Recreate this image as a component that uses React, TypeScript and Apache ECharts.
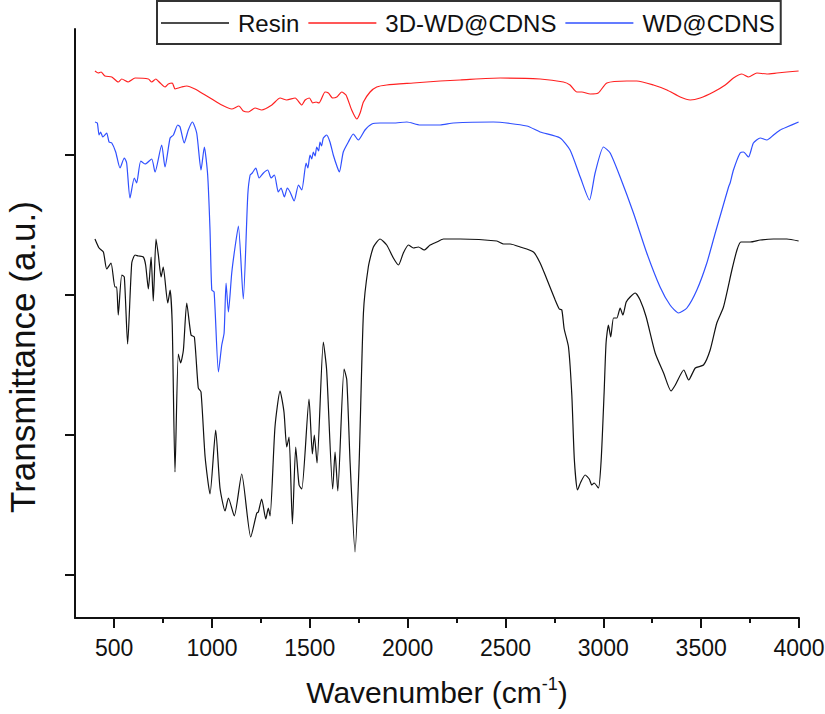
import React, { useEffect, useRef } from "react";
import * as echarts from "echarts";

// Wavenumber (cm-1) and transmittance (a.u.)
const WN_RESIN = [402,423,445,462,484,504,513,521,539,552,569,590,607,624,649,661,675,689,700,714,726,740,751,774,786,797,811,828,840,854,871,893,910,930,944,965,990,1019,1041,1067,1084,1114,1152,1198,1229,1237,1254,1275,1288,1297,1322,1348,1368,1382,1394,1411,1428,1445,1459,1496,1513,1523,1537,1569,1586,1617,1629,1643,1675,1689,1706,1731,1752,1774,1799,1825,1859,1893,1927,1953,1978,2004,2029,2055,2084,2115,2149,2183,2268,2456,2490,2524,2575,2643,2677,2711,2754,2775,2788,2800,2822,2839,2852,2868,2885,2907,2928,2941,2953,2975,2989,3004,3014,3026,3038,3052,3069,3086,3100,3117,3137,3163,3188,3219,3265,3308,3346,3368,3411,3436,3470,3512,3546,3580,3614,3657,3683,3703,3751,3802,3870,3938,3998];
const T_RESIN = [379,370,366,349,355,331,331,303,343,341,274,355,363,362,361,353,329,361,317,379,363,341,351,315,328,293,146,264,255,268,315,283,281,230,226,161,124,188,130,107,120,102,144,81,105,106,119,99,110,102,191,227,206,171,181,94,171,133,129,219,164,183,155,276,248,129,166,127,249,238,155,66,155,305,351,371,379,373,360,353,365,373,370,371,368,373,376,379,379,377,374,374,371,366,355,339,318,309,308,289,271,223,158,128,136,143,139,133,135,130,158,225,275,293,281,300,300,310,303,316,321,325,318,301,265,245,227,233,248,238,250,253,268,295,311,348,368,376,376,378,379,379,377];

const WN_3D = [402,419,433,453,488,521,539,572,607,675,692,713,735,760,777,797,811,828,845,871,913,965,999,1050,1101,1138,1160,1186,1220,1254,1306,1348,1382,1425,1459,1476,1498,1515,1532,1547,1578,1595,1617,1638,1663,1685,1714,1740,1757,1774,1808,1842,1893,2029,2166,2268,2473,2677,2796,2830,2865,2890,2933,2974,3018,3120,3171,3256,3325,3393,3444,3495,3563,3623,3665,3708,3742,3785,3836,3887,3938,3998];
const T_3D = [547,545,546,542,541,536,539,536,540,539,536,539,535,531,534,535,529,530,531,532,529,523,519,513,509,512,507,506,510,508,513,520,518,520,513,518,520,515,516,515,526,525,520,521,526,523,508,499,505,516,526,531,533,535,537,538,540,539,536,533,526,526,524,525,535,537,537,533,528,521,518,520,526,533,540,544,541,545,544,545,546,547];

const WN_WD = [402,414,423,431,442,462,474,488,508,530,552,564,581,603,615,636,658,692,709,743,760,786,803,825,837,858,879,900,922,944,961,978,990,999,1011,1033,1050,1062,1072,1084,1101,1118,1135,1160,1183,1195,1206,1224,1241,1263,1285,1302,1319,1339,1353,1370,1385,1399,1420,1442,1459,1481,1490,1501,1510,1518,1527,1535,1545,1552,1560,1569,1586,1603,1620,1640,1651,1671,1697,1722,1748,1782,1817,1859,1927,1996,2064,2166,2234,2438,2609,2677,2779,2830,2882,2929,2958,3001,3035,3086,3154,3222,3290,3341,3384,3427,3478,3529,3572,3606,3640,3648,3665,3699,3716,3742,3767,3802,3836,3870,3904,3938,3998];
const T_WD = [496,495,483,486,481,485,476,475,466,450,460,455,420,440,435,457,454,459,446,473,451,480,483,493,491,475,488,496,485,448,471,443,388,328,326,246,273,285,335,306,345,371,392,319,423,443,445,450,440,445,448,440,443,426,430,421,430,426,417,433,428,455,450,463,459,466,462,471,467,476,472,480,483,476,463,451,446,466,476,484,478,488,494,495,495,496,493,493,495,496,492,486,480,468,441,418,445,471,465,441,405,365,331,313,305,310,328,355,385,408,431,435,448,465,466,461,475,480,478,483,488,491,496];

const X_MAJOR = [500, 1000, 1500, 2000, 2500, 3000, 3500, 4000];
const X_MINOR = [750, 1250, 1750, 2250, 2750, 3250, 3750];
const Y_TICKS = [43, 183, 323, 463];

const FONT = "'Liberation Sans', Arial, Helvetica, sans-serif";

const zip = (xs: number[], ys: number[]) => xs.map((x, i) => [x, ys[i]]);

export default function App() {
  const ref = useRef<HTMLDivElement>(null);
  useEffect(() => {
    document.body.style.margin = "0";
    const chart = echarts.init(ref.current!, null, { renderer: "svg" });
    const seriesBase = {
      type: "line" as const,
      symbol: "none",
      showSymbol: false,
      smooth: 0.2,
      xAxisIndex: 0,
      yAxisIndex: 0,
    };
    chart.setOption({
      animation: false,
      backgroundColor: "#fff",
      grid: { left: 75, right: 26, top: 29, bottom: 96, containLabel: false, outerBoundsMode: "none" },
      legend: {
        left: 157,
        top: 1,
        padding: [9, 6, 8, 4],
        borderColor: "#333",
        borderWidth: 2,
        borderRadius: 0,
        icon: "rect",
        itemWidth: 68,
        itemHeight: 1.4,
        itemGap: 9,
        textStyle: { fontSize: 24, color: "#111", fontFamily: FONT, padding: [0, 0, 0, 4], lineHeight: 26 },
        data: ["Resin", "3D-WD@CDNS", "WD@CDNS"],
      },
      xAxis: [
        {
          type: "value",
          min: 300,
          max: 4000,
          position: "bottom",
          splitLine: { show: false },
          axisLine: { show: true, onZero: false, lineStyle: { color: "#111", width: 2 } },
          axisTick: { show: true, customValues: X_MAJOR, length: 10, lineStyle: { color: "#111", width: 2 } },
          axisLabel: {
            show: true,
            customValues: X_MAJOR,
            margin: 18,
            fontSize: 23,
            color: "#111",
            fontFamily: FONT,
            formatter: (v: number) => String(v),
          },
          name: "Wavenumber (cm{sup|-1})",
          nameLocation: "middle",
          nameGap: 57,
          nameTextStyle: {
            fontSize: 30,
            color: "#111",
            fontFamily: FONT,
            lineHeight: 34,
            rich: { sup: { fontSize: 18, color: "#111", fontFamily: FONT, verticalAlign: "top", lineHeight: 18 } },
          },
        },
        {
          type: "value",
          min: 300,
          max: 4000,
          position: "bottom",
          splitLine: { show: false },
          axisLine: { show: false, onZero: false },
          axisTick: { show: true, customValues: X_MINOR, length: 5, lineStyle: { color: "#111", width: 2 } },
          axisLabel: { show: false },
        },
      ],
      yAxis: {
        type: "value",
        min: 0,
        max: 589,
        splitLine: { show: false },
        axisLine: { show: true, onZero: false, lineStyle: { color: "#111", width: 2 } },
        axisTick: { show: true, customValues: Y_TICKS, length: 10, lineStyle: { color: "#111", width: 2 } },
        axisLabel: { show: false },
      },
      graphic: [
        {
          type: "text",
          x: 22,
          y: 357,
          rotation: Math.PI / 2,
          style: {
            text: "Transmittance (a.u.)",
            fontSize: 35,
            fontFamily: FONT,
            fill: "#111",
            textAlign: "center",
            textVerticalAlign: "middle",
          },
        },
      ],
      series: [
        { ...seriesBase, name: "Resin", data: zip(WN_RESIN, T_RESIN), lineStyle: { color: "#111", width: 1.2 }, itemStyle: { color: "#111" } },
        { ...seriesBase, name: "3D-WD@CDNS", data: zip(WN_3D, T_3D), lineStyle: { color: "#ff2020", width: 1.2 }, itemStyle: { color: "#ff2020" } },
        { ...seriesBase, name: "WD@CDNS", data: zip(WN_WD, T_WD), lineStyle: { color: "#3050ff", width: 1.2 }, itemStyle: { color: "#3050ff" } },
      ],
    });
    return () => chart.dispose();
  }, []);
  return <div ref={ref} style={{ width: 825, height: 714 }} />;
}
